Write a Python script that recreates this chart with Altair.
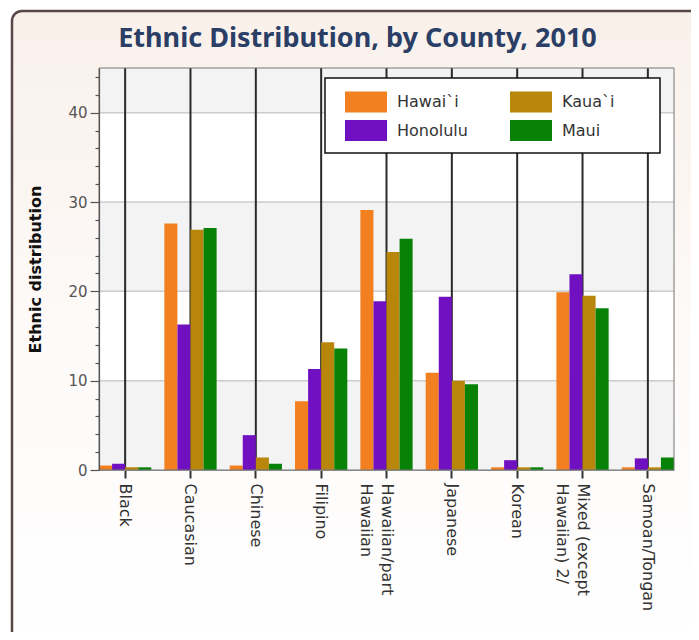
import altair as alt
import pandas as pd

# ---- data ----
categories = ["Black", "Caucasian", "Chinese", "Filipino", "Hawaiian/part\nHawaiian",
              "Japanese", "Korean", "Mixed (except\nHawaiian) 2/", "Samoan/Tongan"]
bar_order = ["Hawai`i", "Honolulu", "Kaua`i", "Maui"]
bar_colors = ["#F28020", "#7010C0", "#B8860B", "#078207"]

hawaii = [0.5, 27.6, 0.5, 7.7, 29.1, 10.9, 0.3, 19.9, 0.3]
honolulu = [0.7, 16.3, 3.9, 11.3, 18.9, 19.4, 1.1, 21.9, 1.3]
kauai = [0.3, 26.9, 1.4, 14.3, 24.4, 10.0, 0.3, 19.5, 0.3]
maui = [0.3, 27.1, 0.7, 13.6, 25.9, 9.6, 0.3, 18.1, 1.4]

y_ticks = [0, 2, 4, 6, 8, 10, 12, 14, 16, 18, 20, 22, 24, 26, 28, 30, 32, 34, 36, 38, 40, 42, 44]
grid_vals = [10, 20, 30, 40]
band_lo = [0, 10, 20, 30, 40]
band_hi = [10, 20, 30, 40, 45]
band_shade = ["gray", "white", "gray", "white", "gray"]

series = {"Hawai`i": hawaii, "Honolulu": honolulu, "Kaua`i": kauai, "Maui": maui}
rows = []
for county, vals in series.items():
    for cat, v in zip(categories, vals):
        rows.append({"category": cat, "county": county, "value": v})
bars_df = pd.DataFrame(rows)
cat_df = pd.DataFrame({"category": categories})
grid_df = pd.DataFrame({"g": grid_vals})
bands_df = pd.DataFrame({"lo": band_lo, "hi": band_hi, "shade": band_shade})

W, H = 575, 402
FONT = "DejaVu Sans"

yscale = alt.Scale(domain=[0, 45], nice=False, zero=True)
xscale = alt.Scale(domain=categories, paddingInner=0.2, paddingOuter=0)

yaxis = alt.Axis(
    values=y_ticks,
    labelExpr="datum.value % 10 === 0 ? datum.label : ''",
    tickSize={"condition": {"test": "datum.value % 10 === 0", "value": 9}, "value": 4},
    tickColor="#555", tickWidth=1.2, domainColor="#555", domainWidth=1.2,
    labelFont=FONT, labelFontSize=15, labelColor="#555", labelPadding=3,
    labelOverlap=False, grid=False,
    title="Ethnic distribution", titleFont=FONT, titleFontSize=16,
    titleFontWeight="bold", titleColor="#111",
    titleX=-64, titleY=H / 2, titleAngle=-90, titleAlign="center", titleBaseline="middle",
    zindex=1,
)
xaxis = alt.Axis(
    title=None, labelAngle=90, labelAlign="left", labelBaseline="middle",
    labelFont=FONT, labelFontSize=16, labelColor="#333", labelPadding=5,
    labelExpr="split(datum.label, '\\n')", labelLineHeight=21,
    tickSize=8, tickWidth=2, tickColor="#333", domainColor="#888",
    labelOverlap=False, grid=False, zindex=1,
)

frame = alt.Chart(alt.Data(values=[{}])).mark_rect(
    cornerRadius=10, stroke="#5a4848", strokeWidth=2.5,
    fill={"gradient": "linear", "x1": 0, "x2": 0, "y1": 0, "y2": 1,
          "stops": [{"offset": 0, "color": "#f9f0ea"},
                    {"offset": 0.5, "color": "#fdfaf8"},
                    {"offset": 1, "color": "#ffffff"}]},
).encode(x=alt.value(-87), x2=alt.value(W + 27), y=alt.value(-57), y2=alt.value(H + 172))

bands = alt.Chart(bands_df).mark_rect().encode(
    y=alt.Y("lo:Q", scale=yscale, axis=yaxis),
    y2="hi:Q",
    fill=alt.Fill("shade:N", scale=alt.Scale(domain=["gray", "white"], range=["#f3f3f3", "#ffffff"]), legend=None),
)

hgrid = alt.Chart(grid_df).mark_rule(color="#cccccc", strokeWidth=1.5).encode(
    y=alt.Y("g:Q", scale=yscale, axis=yaxis)
)

vrules = alt.Chart(cat_df).mark_rule(color="#2a2a2a", strokeWidth=2).encode(
    x=alt.X("category:N", scale=xscale, axis=xaxis)
)

legend = alt.Legend(
    orient="none", legendX=256.5, legendY=23.5, columns=2, title=None,
    symbolType="M-2,-1H2V1H-2Z", symbolSize=441, symbolStrokeWidth=0,
    labelFont=FONT, labelFontSize=16, labelColor="#333", labelOffset=20.5,
    columnPadding=41, rowPadding=7.5, padding=0,
)

bars = alt.Chart(bars_df).mark_bar().encode(
    x=alt.X("category:N", scale=xscale, axis=xaxis),
    xOffset=alt.XOffset("county:N", scale=alt.Scale(domain=bar_order)),
    y=alt.Y("value:Q", scale=yscale, axis=yaxis),
    color=alt.Color("county:N", scale=alt.Scale(domain=bar_order, range=bar_colors), legend=legend),
)

outline = alt.Chart(alt.Data(values=[{}])).mark_rect(
    fill="transparent", stroke="#777", strokeWidth=1
).encode(x=alt.value(0), x2=alt.value(W), y=alt.value(0), y2=alt.value(H))

legend_box = alt.Chart(alt.Data(values=[{}])).mark_rect(
    fill="white", stroke="#111", strokeWidth=1.5
).encode(x=alt.value(226), x2=alt.value(561), y=alt.value(10), y2=alt.value(85))

chart = alt.layer(frame, bands, hgrid, vrules, bars, outline, legend_box).properties(
    width=W, height=H,
    padding={"left": 91, "top": 60, "right": 17, "bottom": 162},
    autosize=alt.AutoSizeParams(type="none"),
    background="white",
    title=alt.TitleParams(
        "Ethnic Distribution, by County, 2010", font="Noto Sans", fontSize=27,
        fontWeight="bold", color="#2B3F66", anchor="middle", frame="group",
        dx=-29, dy=47,
    ),
).configure_view(stroke=None)

chart.save("out.html", embed_options={"renderer": "svg", "actions": False})
